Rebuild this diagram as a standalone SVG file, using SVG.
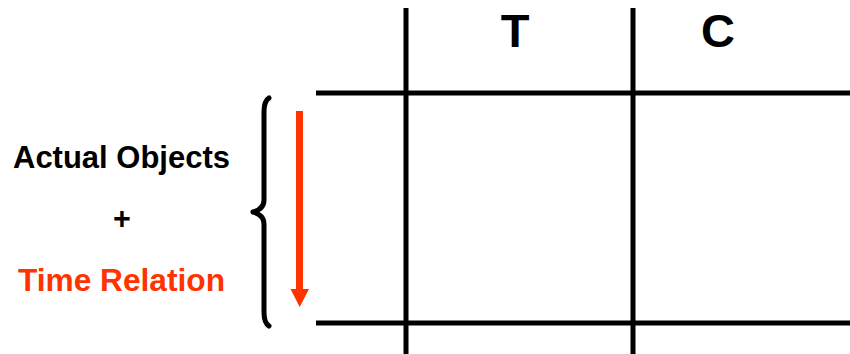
<svg xmlns="http://www.w3.org/2000/svg" width="850" height="354" viewBox="0 0 850 354">
<style>
.grid{stroke:#000;stroke-width:5;fill:none}
.lbl{font-family:"Liberation Sans",Arial,sans-serif;font-weight:bold;text-anchor:middle}
</style>
<rect width="850" height="354" fill="#fff"/>
<g id="grid">
<line class="grid" x1="406" y1="8" x2="406" y2="354"/>
<line class="grid" x1="633" y1="8" x2="633" y2="354"/>
<line class="grid" x1="316" y1="93" x2="850" y2="93"/>
<line class="grid" x1="316" y1="323" x2="850" y2="323"/>
</g>
<g id="header-T"><text class="lbl" x="515" y="47" font-size="47">T</text></g>
<g id="header-C"><text class="lbl" x="718" y="47" font-size="47">C</text></g>
<g id="label-actual"><text class="lbl" x="121.5" y="168" font-size="30.5" textLength="217" lengthAdjust="spacingAndGlyphs">Actual Objects</text></g>
<g id="label-plus"><text class="lbl" x="122" y="229" font-size="30.5">+</text></g>
<g id="label-time"><text class="lbl" x="121.5" y="291" font-size="30.5" fill="#FF3300" textLength="207" lengthAdjust="spacingAndGlyphs">Time Relation</text></g>
<g id="brace">
<path d="M269,98 Q264,101 264,112 L264,200 Q264,209 253,212 Q264,215 264,224 L264,312 Q264,323 269,326" stroke="#000" stroke-width="5" fill="none" stroke-linecap="round" stroke-linejoin="round"/>
</g>
<g id="connectors">
<rect x="296" y="111" width="7" height="179" fill="#FF3300"/>
<polygon points="290.5,289 309,289 299.7,307" fill="#FF3300"/>
</g>
</svg>
